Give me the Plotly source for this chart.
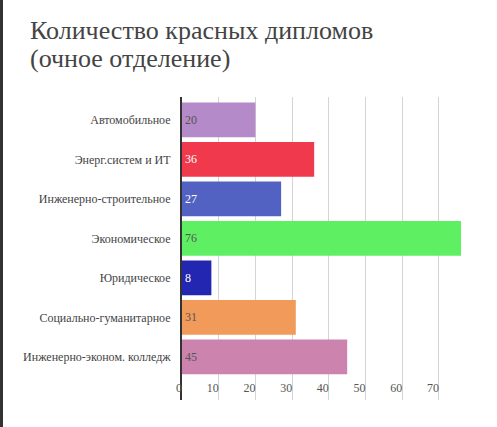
import plotly.graph_objects as go

categories = ["Автомобильное", "Энерг.систем и ИТ", "Инженерно-строительное",
              "Экономическое", "Юридическое", "Социально-гуманитарное",
              "Инженерно-эконом. колледж"]
values = [20, 36, 27, 76, 8, 31, 45]
bar_colors = ["#b48ac8", "#f0394c", "#5262c2", "#5ef062", "#2326b0", "#f29a5a", "#cc84ae"]
text_colors = ["#555555", "#ffffff", "#ffffff", "#555555", "#ffffff", "#555555", "#555555"]
tick_vals = [0, 10, 20, 30, 40, 50, 60, 70]
title_lines = ["Количество красных дипломов", "(очное отделение)"]

SERIF = "Liberation Serif, Tinos, DejaVu Serif, serif"
W, H = 497, 427
L, R, T, B = 182, 461, 97, 400


def px_x(x):
    return (x - L) / (R - L)


def px_y(y):
    return (B - y) / (B - T)


fig = go.Figure()
fig.add_trace(go.Bar(
    x=values, y=categories, orientation="h",
    marker=dict(color=bar_colors, line=dict(width=0)),
    text=[str(v) for v in values], textposition="inside", insidetextanchor="start",
    textfont=dict(family=SERIF, size=12, color=text_colors),
    width=0.88, hoverinfo="skip", cliponaxis=False,
))

annotations = []
for line, ymid in zip(title_lines, [30, 58]):
    annotations.append(dict(text=line, xref="paper", yref="paper",
                            x=px_x(28), y=px_y(ymid), xanchor="left", yanchor="middle",
                            showarrow=False,
                            font=dict(family=SERIF, size=26, color="#444444")))

fig.update_layout(
    width=W, height=H,
    margin=dict(l=L, r=W - R, t=T, b=H - B, pad=0),
    paper_bgcolor="white", plot_bgcolor="white",
    showlegend=False,
    font=dict(family=SERIF, color="#444444"),
    annotations=annotations,
    xaxis=dict(range=[0, 76], tickvals=tick_vals, showgrid=True,
               gridcolor="#d4d4d4", gridwidth=1, zeroline=False,
               ticklabelposition="inside left", ticklabeloverflow="allow",
               tickfont=dict(family=SERIF, size=12, color="#555555"),
               showline=False, ticks=""),
    yaxis=dict(categoryorder="array", categoryarray=categories,
               range=[7.09, -0.58], showgrid=False, zeroline=False,
               showline=True, linecolor="#333333", linewidth=2,
               ticks="", ticklabelstandoff=7,
               tickfont=dict(family=SERIF, size=12, color="#444444")),
    shapes=[dict(type="line", xref="paper", yref="paper",
                 x0=px_x(1.5), x1=px_x(1.5), y0=px_y(0), y1=px_y(H),
                 line=dict(color="#333333", width=3))],
)

fig.write_html("out.html", config={"displayModeBar": False},
               post_script="document.body.style.margin='0';")
